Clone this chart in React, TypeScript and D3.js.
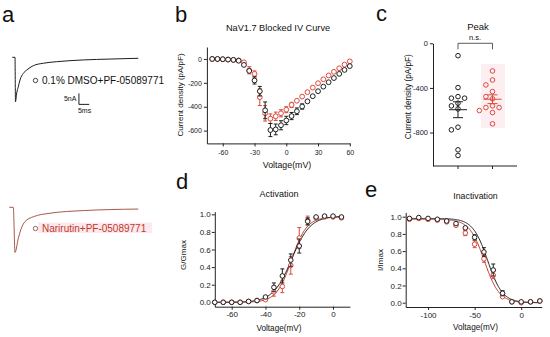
import React, { useEffect, useRef } from "react";
import * as d3 from "d3";

const FONT = "'Liberation Sans', Arial, sans-serif";
const BLACK = "#1e1e1e";
const RED = "#dc4a3d";
const RED_FIT = "#b8382c";
const TRACE_RED = "#a85848";

// a: example current traces (ms, nA)
const traceDmsoT = [1.46, 2.77, 3.0, 3.6, 4.37, 5.19, 6.8, 8.45, 11.65, 16.5, 23.0, 35.9, 48.9, 62.6];
const traceDmsoI = [0, 0, -20.2, -16.2, -13.4, -10.3, -7.3, -5.8, -3.8, -2.7, -2.0, -1.2, -0.8, -0.45];
const traceNariT = [0, 1.94, 2.77, 4.37, 5.53, 7.62, 11.65, 19.76, 35.9, 62.6];
const traceNariI = [0, 0, -20.5, -14.1, -10.3, -6.5, -4.3, -2.7, -1.5, -0.8];

// b: IV curve
const ivVolt = [-70, -65, -60, -55, -50, -45, -40, -35, -30, -25, -20, -15, -10, -5, 0, 5, 10, 15, 20, 25, 30, 35, 40, 45, 50, 55, 60];
const ivDmso = [0, 0, -2, -5, -8, -15, -50, -100, -180, -270, -430, -595, -590, -555, -515, -478, -438, -398, -355, -312, -270, -232, -195, -160, -125, -92, -60];
const ivDmsoErr = [3, 3, 4, 5, 5, 6, 10, 15, 30, 40, 70, 55, 45, 38, 35, 30, 28, 22, 18, 15, 14, 12, 10, 9, 8, 8, 8];
const ivNari = [0, -2, -3, -5, -8, -12, -28, -95, -125, -320, -455, -500, -480, -455, -425, -385, -350, -315, -278, -240, -203, -170, -138, -108, -78, -48, -20];
const ivNariErr = [3, 3, 4, 5, 5, 6, 10, 30, 25, 70, 65, 40, 35, 30, 25, 22, 20, 18, 16, 14, 12, 10, 9, 8, 8, 7, 7];

// c: peak current density per cell
const peakGroups = ["DMSO", "Narirutin"];
const peakDmso = [-111, -397, -492, -492, -478, -537, -561, -588, -752, -776, -955, -1006];
const peakNari = [-248, -329, -373, -433, -478, -498, -561, -576, -576, -603, -621, -722];

// d: activation
const actVolt = [-70, -65, -60, -55, -50, -45, -40, -35, -30, -25, -20, -15, -10, -5, 0, 5];
const actDmso = [0, 0, 0, 0, 0.01, 0.02, 0.06, 0.17, 0.3, 0.48, 0.64, 0.92, 0.97, 0.98, 0.98, 0.97];
const actDmsoErr = [0, 0, 0, 0, 0.005, 0.01, 0.02, 0.05, 0.08, 0.07, 0.08, 0.04, 0.01, 0.01, 0.01, 0.01];
const actNari = [0, 0, 0, 0, 0.01, 0.02, 0.03, 0.12, 0.18, 0.42, 0.73, 0.93, 0.96, 0.97, 0.97, 0.96];
const actNariErr = [0, 0, 0, 0, 0.005, 0.01, 0.02, 0.05, 0.07, 0.1, 0.12, 0.05, 0.01, 0.01, 0.01, 0.01];
const actFitDmso = { vHalf: -24.5, k: 5.5, top: 0.98 };
const actFitNari = { vHalf: -24.5, k: 4.5, top: 0.97 };

// e: inactivation
const inactVolt = [-120, -110, -100, -90, -80, -70, -60, -50, -40, -30, -20, -10, 0, 10, 20];
const inactDmso = [0.98, 0.99, 0.98, 0.97, 0.95, 0.92, 0.87, 0.76, 0.59, 0.38, 0.11, 0.01, 0.01, 0.01, 0.02];
const inactDmsoErr = [0.01, 0.01, 0.01, 0.01, 0.01, 0.02, 0.02, 0.03, 0.05, 0.07, 0.03, 0.01, 0.01, 0.01, 0.01];
const inactNari = [0.97, 0.98, 0.97, 0.96, 0.94, 0.9, 0.81, 0.68, 0.51, 0.32, 0.07, 0.01, 0, 0.01, 0.02];
const inactNariErr = [0.01, 0.01, 0.01, 0.01, 0.01, 0.02, 0.03, 0.04, 0.04, 0.04, 0.02, 0.01, 0.01, 0.01, 0.01];
const inactFitDmso = { vHalf: -36, k: 8, top: 0.98 };
const inactFitNari = { vHalf: -39.5, k: 8, top: 0.97 };

type Sel = d3.Selection<SVGGElement, unknown, null, undefined>;

const styleAxis = (g: Sel, size: number) => {
  g.attr("font-family", FONT).attr("font-size", size);
  g.select(".domain").attr("stroke", "#222");
  g.selectAll(".tick line").attr("stroke", "#222");
  g.selectAll(".tick text").attr("fill", "#222");
};

const label = (g: Sel, x: number, y: number, txt: string, size: number, opts: any = {}) => {
  const t = g
    .append("text")
    .attr("x", x)
    .attr("y", y)
    .attr("font-family", FONT)
    .attr("font-size", size)
    .attr("fill", opts.fill || "#111")
    .attr("text-anchor", opts.anchor || "middle")
    .text(txt);
  if (opts.rotate) t.attr("transform", `rotate(-90,${x},${y})`).attr("dy", "0.35em");
  return t;
};

const drawSeries = (g: Sel, x: any, y: any, xs: number[], ys: number[], errs: number[], color: string, r: number) => {
  const gg = g.append("g");
  xs.forEach((v, i) => {
    const e = errs[i];
    if (y(ys[i] - e) - y(ys[i] + e) > r * 2) {
      gg.append("line").attr("x1", x(v)).attr("x2", x(v)).attr("y1", y(ys[i] - e)).attr("y2", y(ys[i] + e)).attr("stroke", color);
      [ys[i] - e, ys[i] + e].forEach((c) =>
        gg.append("line").attr("x1", x(v) - 2).attr("x2", x(v) + 2).attr("y1", y(c)).attr("y2", y(c)).attr("stroke", color)
      );
    }
  });
  gg.selectAll("circle")
    .data(xs)
    .enter()
    .append("circle")
    .attr("cx", (d) => x(d))
    .attr("cy", (_d, i) => y(ys[i]))
    .attr("r", r)
    .attr("fill", "white")
    .attr("stroke", color)
    .attr("stroke-width", 1);
};

// simple dodge layout so the dots of one group don't overlap
const swarm = (vals: number[], cx: number, y: any, r: number) => {
  const placed: { x: number; y: number; v: number }[] = [];
  [...vals].sort((a, b) => b - a).forEach((v) => {
    const py = y(v);
    for (const k of [0, -1, 1, -2, 2, -3, 3]) {
      const px = cx + k * (2 * r + 2);
      if (placed.every((p) => Math.hypot(p.x - px, p.y - py) >= 2 * r + 1)) {
        placed.push({ x: px, y: py, v });
        break;
      }
    }
  });
  return placed;
};

const App = () => {
  const svgRef = useRef<SVGSVGElement>(null);

  useEffect(() => {
    const svg = d3.select(svgRef.current);
    svg.selectAll("*").remove();
    const root = svg.append("g") as Sel;

    // panel letters
    [["a", 2, 22], ["b", 175, 22], ["c", 376, 21], ["d", 176, 189], ["e", 365, 197]].forEach(([t, x, y]) =>
      label(root, x as number, y as number, t as string, 22, { anchor: "start" })
    );

    // ---------- a ----------
    const a = root.append("g") as Sel;
    const tx = d3.scaleLinear().domain([0, 62]).range([9.3, 9.3 + 62 * 2.06]);
    const yTop = d3.scaleLinear().domain([0, -20]).range([57.3, 101.3]);
    const yBot = d3.scaleLinear().domain([0, -20]).range([207.3, 251.3]);
    const lineTop = d3.line<number>().x((d) => tx(d)).y((_d, i) => yTop(traceDmsoI[i])).curve(d3.curveMonotoneX);
    const lineBot = d3.line<number>().x((d) => tx(d)).y((_d, i) => yBot(traceNariI[i])).curve(d3.curveMonotoneX);
    a.append("path").attr("d", lineTop(traceDmsoT)).attr("fill", "none").attr("stroke", BLACK).attr("stroke-width", 1);
    a.append("path").attr("d", lineBot(traceNariT)).attr("fill", "none").attr("stroke", TRACE_RED).attr("stroke-width", 1);
    // scale bar 5 nA / 5 ms
    const sbT = 33.8, sbI = -16.4;
    a.append("path")
      .attr("d", `M${tx(sbT)},${yTop(sbI)}V${yTop(sbI - 5)}H${tx(sbT + 5)}`)
      .attr("fill", "none").attr("stroke", BLACK).attr("stroke-width", 1);
    label(a, tx(sbT) - 2.5, yTop(sbI - 2.5) + 2.5, "5nA", 7, { anchor: "end" });
    label(a, tx(sbT + 2.5) + 0.5, yTop(sbI - 5) + 8.5, "5ms", 7);
    // legends
    a.append("circle").attr("cx", 35.5).attr("cy", 80.5).attr("r", 2.2).attr("fill", "white").attr("stroke", "#444");
    label(a, 42, 84, "0.1% DMSO+PF-05089771", 10, { anchor: "start" });
    a.append("rect").attr("x", 38).attr("y", 222.5).attr("width", 114).attr("height", 10.5).attr("fill", "#fce8ed");
    a.append("circle").attr("cx", 35.5).attr("cy", 228.5).attr("r", 2.2).attr("fill", "white").attr("stroke", "#8a6a60");
    label(a, 42, 232, "Narirutin+PF-05089771", 10, { anchor: "start", fill: "#c0392b" });

    // ---------- b ----------
    const b = root.append("g") as Sel;
    const bx = d3.scaleLinear().domain([-75, 60]).range([206.9, 349.8]);
    const by = d3.scaleLinear().domain([-707, 100]).range([143.4, 47]);
    const bxa = b.append("g").attr("transform", `translate(0,${by(-707)})`)
      .call(d3.axisBottom(bx).tickValues([-60, -30, 0, 30, 60]).tickFormat((d) => String(d)).tickSize(3).tickSizeOuter(0).tickPadding(4)) as Sel;
    styleAxis(bxa, 7);
    const bya = b.append("g").attr("transform", `translate(${bx(-75)},0)`)
      .call(d3.axisLeft(by).tickValues([0, -200, -400, -600]).tickFormat((d) => String(d)).tickSize(3).tickSizeOuter(0).tickPadding(2)) as Sel;
    styleAxis(bya, 7);
    drawSeries(b, bx, by, ivVolt, ivNari, ivNariErr, RED, 2.4);
    drawSeries(b, bx, by, ivVolt, ivDmso, ivDmsoErr, BLACK, 2.4);
    label(b, 278, 31, "NaV1.7 Blocked IV Curve", 9.2);
    label(b, 287, 168, "Voltage(mV)", 8.8);
    label(b, 180.5, 95, "Current density (pA/pF)", 8, { rotate: true });

    // ---------- c ----------
    const c = root.append("g") as Sel;
    const cx = d3.scalePoint().domain(peakGroups).range([458, 492.5]);
    const cy = d3.scaleLinear().domain([-1100, 0]).range([166, 43.3]);
    c.append("rect").attr("x", 481).attr("y", 64).attr("width", 24).attr("height", 64).attr("fill", "#fdeef1");
    const cxa = c.append("g").attr("transform", `translate(0,${cy(-1100)})`) as Sel;
    cxa.append("line").attr("x1", 433).attr("x2", 517).attr("stroke", "#222");
    cxa.selectAll("line.t").data(peakGroups).enter().append("line").attr("class", "t")
      .attr("x1", (d) => cx(d)!).attr("x2", (d) => cx(d)!).attr("y1", 0).attr("y2", 3).attr("stroke", "#222");
    const cya = c.append("g").attr("transform", `translate(433,0)`)
      .call(d3.axisLeft(cy).tickValues([0, -400, -800]).tickFormat((d) => String(d)).tickSize(3).tickSizeOuter(0).tickPadding(2)) as Sel;
    styleAxis(cya, 7.5);
    [[peakDmso, "DMSO", BLACK], [peakNari, "Narirutin", RED]].forEach(([vals, grp, col]) => {
      const v = vals as number[];
      const x0 = cx(grp as string)!;
      const m = d3.mean(v)!;
      const sem = d3.deviation(v)! / Math.sqrt(v.length);
      const pts = swarm(v, x0, cy, 2.3);
      c.append("g").selectAll("circle").data(pts).enter().append("circle")
        .attr("cx", (d) => d.x).attr("cy", (d) => d.y).attr("r", 2.3)
        .attr("fill", "none").attr("stroke", col as string);
      c.append("line").attr("x1", x0 - 9).attr("x2", x0 + 9).attr("y1", cy(m)).attr("y2", cy(m)).attr("stroke", col as string);
      c.append("line").attr("x1", x0).attr("x2", x0).attr("y1", cy(m - sem)).attr("y2", cy(m + sem)).attr("stroke", col as string);
      [m - sem, m + sem].forEach((s) =>
        c.append("line").attr("x1", x0 - 5).attr("x2", x0 + 5).attr("y1", cy(s)).attr("y2", cy(s)).attr("stroke", col as string)
      );
    });
    c.append("path")
      .attr("d", `M${cx("DMSO")},49.3V43.3H${cx("Narirutin")}V49.3`)
      .attr("fill", "none").attr("stroke", "#333").attr("stroke-width", 0.8);
    label(c, 475, 39.5, "n.s.", 7.5);
    label(c, 478, 30, "Peak", 9.5);
    label(c, 408.3, 96.7, "Current density (pA/pF)", 8.2, { rotate: true });

    // ---------- d ----------
    const dG = root.append("g") as Sel;
    const dx = d3.scaleLinear().domain([-70, 10]).range([214.8, 349.9]);
    const dy = d3.scaleLinear().domain([-0.05, 1.03]).range([306.7, 211.7]);
    const dxa = dG.append("g").attr("transform", `translate(0,${dy(-0.05)})`)
      .call(d3.axisBottom(dx).tickValues([-60, -40, -20, 0]).tickFormat((d) => String(d)).tickSize(3).tickSizeOuter(0).tickPadding(2)) as Sel;
    styleAxis(dxa, 8);
    const dya = dG.append("g").attr("transform", `translate(${dx(-70)},0)`)
      .call(d3.axisLeft(dy).tickValues([0, 0.2, 0.4, 0.6, 0.8, 1.0]).tickFormat(d3.format(".1f")).tickSize(3).tickSizeOuter(0).tickPadding(1)) as Sel;
    styleAxis(dya, 8);
    const vAct = d3.range(-70, 5.01, 0.5);
    const boltzAct = (p: { vHalf: number; k: number; top: number }) =>
      d3.line<number>().x((v) => dx(v)).y((v) => dy(p.top / (1 + Math.exp((p.vHalf - v) / p.k))));
    dG.append("path").attr("d", boltzAct(actFitNari)(vAct)).attr("fill", "none").attr("stroke", RED_FIT);
    dG.append("path").attr("d", boltzAct(actFitDmso)(vAct)).attr("fill", "none").attr("stroke", BLACK);
    drawSeries(dG, dx, dy, actVolt, actNari, actNariErr, RED, 2.3);
    drawSeries(dG, dx, dy, actVolt, actDmso, actDmsoErr, BLACK, 2.3);
    label(dG, 279, 197, "Activation", 9);
    label(dG, 279, 331, "Voltage(mV)", 8.2);
    label(dG, 183, 255, "G/Gmax", 8, { rotate: true });

    // ---------- e ----------
    const e = root.append("g") as Sel;
    const ex = d3.scaleLinear().domain([-124, 22]).range([405.7, 541.7]);
    const ey = d3.scaleLinear().domain([-0.05, 1.05]).range([307, 212.4]);
    const exa = e.append("g").attr("transform", `translate(0,${ey(-0.05)})`)
      .call(d3.axisBottom(ex).tickValues([-100, -50, 0]).tickFormat((d) => String(d)).tickSize(3).tickSizeOuter(0).tickPadding(2)) as Sel;
    styleAxis(exa, 8);
    const eya = e.append("g").attr("transform", `translate(${ex(-124)},0)`)
      .call(d3.axisLeft(ey).tickValues([0, 0.2, 0.4, 0.6, 0.8, 1.0]).tickFormat(d3.format(".1f")).tickSize(3).tickSizeOuter(0).tickPadding(1)) as Sel;
    styleAxis(eya, 8);
    const vIn = d3.range(-120, 20.01, 0.5);
    const boltzIn = (p: { vHalf: number; k: number; top: number }) =>
      d3.line<number>().x((v) => ex(v)).y((v) => ey(p.top / (1 + Math.exp((v - p.vHalf) / p.k))));
    e.append("path").attr("d", boltzIn(inactFitNari)(vIn)).attr("fill", "none").attr("stroke", RED_FIT);
    e.append("path").attr("d", boltzIn(inactFitDmso)(vIn)).attr("fill", "none").attr("stroke", BLACK);
    drawSeries(e, ex, ey, inactVolt, inactNari, inactNariErr, RED, 2.3);
    drawSeries(e, ex, ey, inactVolt, inactDmso, inactDmsoErr, BLACK, 2.3);
    label(e, 475.5, 199, "Inactivation", 8.8);
    label(e, 475.5, 330, "Voltage(mV)", 8.2);
    label(e, 380, 260, "I/Imax", 8, { rotate: true });
  }, []);

  return (
    <svg
      ref={svgRef}
      width={550}
      height={337}
      style={{ position: "absolute", left: 0, top: 0, background: "#fff" }}
    />
  );
};

export default App;
